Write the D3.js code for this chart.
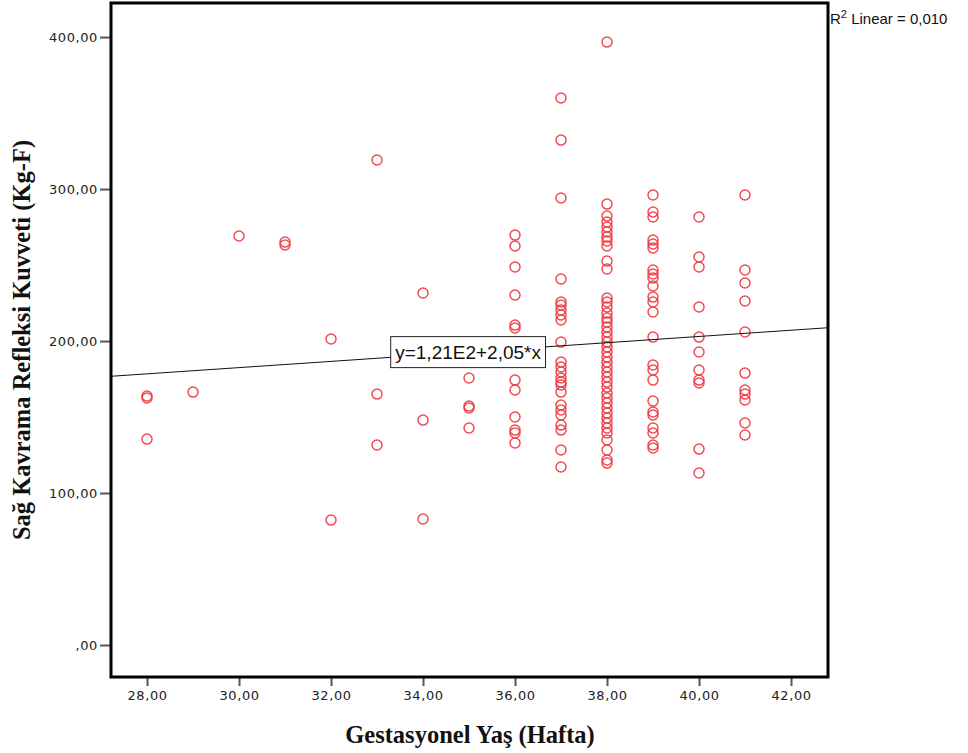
<!DOCTYPE html>
<html>
<head>
<meta charset="utf-8">
<script src="https://cdn.jsdelivr.net/npm/d3@7"></script>
<style>
  html, body { margin: 0; padding: 0; background: #fff; }
  svg { display: block; }
</style>
</head>
<body>
<svg id="chart" width="968" height="753"></svg>
<script>
// Gestational age (weeks) and right grasp reflex force (Kg-F), one entry per infant
const week28 = [163.8, 162.5, 135.5];
const week29 = [166.4];
const week30 = [269.1];
const week31 = [265.1, 263.2];
const week32 = [201.3, 82.2];
const week33 = [319.1, 165.1, 131.6];
const week34 = [231.6, 148.0, 82.9];
const week35 = [175.7, 157.2, 155.9, 142.8];
const week36 = [269.7, 262.5, 248.7, 230.3, 210.5, 208.6, 174.3, 167.8, 150.0, 141.4, 139.5, 132.9];
const week37 = [359.9, 332.2, 294.1, 240.8, 225.7, 223.7, 220.4, 217.1, 213.8, 199.3, 186.2, 182.9,
                179.6, 175.7, 173.0, 171.1, 166.4, 157.9, 154.6, 151.3, 144.7, 141.4, 128.3, 117.1];
const week38 = [396.7, 290.1, 282.2, 278.3, 275.0, 271.7, 268.4, 265.8, 262.5, 252.6, 247.4, 228.3,
                225.7, 222.4, 218.4, 215.1, 212.5, 209.2, 205.9, 202.6, 199.3, 196.1, 192.8, 189.5,
                186.2, 182.9, 179.6, 176.3, 173.0, 169.7, 165.8, 162.5, 159.2, 155.9, 152.6, 149.3,
                146.1, 142.8, 139.5, 134.9, 128.3, 121.7, 119.7];
const week39 = [296.1, 284.9, 281.6, 266.4, 263.8, 261.2, 246.7, 244.1, 241.4, 236.2, 228.9, 225.7,
                219.1, 202.6, 184.2, 180.9, 174.3, 160.5, 153.3, 151.3, 142.8, 139.5, 131.6, 129.6];
const week40 = [281.6, 255.3, 248.7, 222.4, 202.6, 192.8, 180.9, 174.3, 172.4, 128.9, 113.2];
const week41 = [296.1, 246.7, 238.2, 226.3, 205.9, 178.9, 167.8, 165.1, 161.2, 146.1, 138.2];

const weekGroups = [
  [28, week28], [29, week29], [30, week30], [31, week31], [32, week32], [33, week33],
  [34, week34], [35, week35], [36, week36], [37, week37], [38, week38], [39, week39],
  [40, week40], [41, week41]
];

// Linear fit: y = 1,21E2 + 2,05*x ; R² = 0,010
const fitIntercept = 121;
const fitSlope = 2.05;
const fitLabel = "y=1,21E2+2,05*x";
const r2Label = "Linear = 0,010";

const xTicks = [28, 30, 32, 34, 36, 38, 40, 42];
const yTicks = [0, 100, 200, 300, 400];

const xTitle = "Gestasyonel Yaş (Hafta)";
const yTitle = "Sağ Kavrama Refleksi Kuvveti (Kg-F)";

const points = weekGroups.flatMap(([w, vals]) => vals.map(v => ({ x: w, y: v })));

const plot = { left: 111, right: 828, top: 3, bottom: 677 };
const fmt = v => d3.format(".2f")(v).replace(".", ",").replace(/^0,/, ",");

const x = d3.scaleLinear().domain([27.217, 42.804]).range([plot.left, plot.right]);
const y = d3.scaleLinear().domain([-21.05, 422.4]).range([plot.bottom, plot.top]);

const svg = d3.select("#chart");

// Points
svg.append("g")
  .selectAll("circle")
  .data(points)
  .join("circle")
  .attr("cx", d => x(d.x))
  .attr("cy", d => y(d.y))
  .attr("r", 5)
  .attr("fill", "none")
  .attr("stroke", "#ec3a40")
  .attr("stroke-opacity", 0.9)
  .attr("stroke-width", 1.5);

// Fit line
const [x0, x1] = x.domain();
svg.append("line")
  .attr("x1", x(x0)).attr("y1", y(fitIntercept + fitSlope * x0))
  .attr("x2", x(x1)).attr("y2", y(fitIntercept + fitSlope * x1))
  .attr("stroke", "#111")
  .attr("stroke-width", 1);

// Fit equation label in a box centred on the line
const labelCenterWeek = 34.98;
const labelG = svg.append("g");
const labelText = labelG.append("text")
  .attr("font-family", "'Liberation Sans', Arial, sans-serif")
  .attr("font-size", 19)
  .attr("text-anchor", "middle")
  .attr("fill", "#111")
  .text(fitLabel);
const lbw = labelText.node().getComputedTextLength();
const cx = x(labelCenterWeek), cy = y(fitIntercept + fitSlope * labelCenterWeek);
labelG.insert("rect", "text")
  .attr("x", cx - lbw / 2 - 4.5).attr("y", cy - 15.5)
  .attr("width", lbw + 9).attr("height", 31)
  .attr("fill", "#fff").attr("stroke", "#222").attr("stroke-width", 1);
labelText.attr("x", cx).attr("y", cy + 7);

// Axes ticks
const xAxis = d3.axisBottom(x).tickValues(xTicks).tickSize(9).tickPadding(5).tickFormat(fmt);
const yAxis = d3.axisLeft(y).tickValues(yTicks).tickSize(11).tickPadding(2).tickFormat(fmt);

const gx = svg.append("g").attr("transform", `translate(0,${plot.bottom})`).call(xAxis);
const gy = svg.append("g").attr("transform", `translate(${plot.left},0)`).call(yAxis);
[gx, gy].forEach(g => {
  g.select(".domain").remove();
  g.selectAll(".tick line").attr("stroke", "#555").attr("stroke-width", 2);
  g.selectAll(".tick text")
    .attr("font-family", "'DejaVu Sans', Tahoma, sans-serif")
    .attr("font-size", 13)
    .attr("letter-spacing", 0.6)
    .attr("fill", "#222");
});

// Frame
svg.append("rect")
  .attr("x", plot.left).attr("y", plot.top)
  .attr("width", plot.right - plot.left).attr("height", plot.bottom - plot.top)
  .attr("fill", "none").attr("stroke", "#000").attr("stroke-width", 3);

// R² label
const r2 = svg.append("text")
  .attr("x", 830).attr("y", 24)
  .attr("font-family", "'Liberation Sans', Arial, sans-serif")
  .attr("font-size", 15)
  .attr("fill", "#111");
r2.append("tspan").text("R");
r2.append("tspan").attr("dy", -6).attr("font-size", 11).text("2");
r2.append("tspan").attr("dy", 6).text(" " + r2Label);

// Axis titles
svg.append("text")
  .attr("x", 470).attr("y", 743)
  .attr("text-anchor", "middle")
  .attr("font-family", "'Liberation Serif', 'Times New Roman', serif")
  .attr("font-weight", "bold")
  .attr("font-size", 24.5)
  .attr("fill", "#111")
  .text(xTitle);

svg.append("text")
  .attr("transform", `translate(30,340) rotate(-90)`)
  .attr("text-anchor", "middle")
  .attr("font-family", "'Liberation Serif', 'Times New Roman', serif")
  .attr("font-weight", "bold")
  .attr("font-size", 24.5)
  .attr("fill", "#111")
  .text(yTitle);
</script>
</body>
</html>
